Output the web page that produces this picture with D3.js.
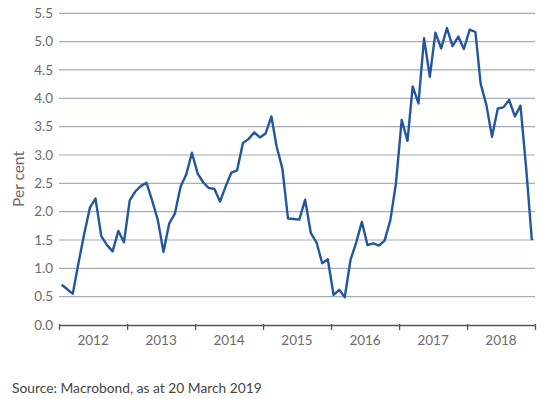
<!DOCTYPE html>
<html><head><meta charset="utf-8">
<script src="https://cdn.jsdelivr.net/npm/d3@7"></script>
<style>body{margin:0;background:#fff;} text{font-family:Lato,"Open Sans",sans-serif;}</style>
</head><body>
<svg id="c" width="552" height="399"></svg>
<script>
const startYear = 2012, startMonth = 0;
const values = [
 0.71,0.63,0.55,1.10,1.60,2.07,2.23,1.57,1.41,1.30,1.66,1.46,
 2.20,2.36,2.45,2.51,2.20,1.85,1.29,1.79,1.97,2.44,2.66,3.04,
 2.67,2.51,2.42,2.40,2.18,2.45,2.69,2.73,3.21,3.28,3.40,3.31,
 3.38,3.68,3.15,2.76,1.88,1.87,1.86,2.21,1.62,1.46,1.09,1.16,
 0.53,0.62,0.49,1.15,1.45,1.82,1.41,1.44,1.40,1.49,1.85,2.50,
 3.62,3.25,4.21,3.91,5.06,4.38,5.16,4.88,5.24,4.92,5.09,4.87,
 5.21,5.17,4.26,3.88,3.32,3.82,3.84,3.97,3.68,3.87,2.75,1.50
];
const yTicks = [0,0.5,1,1.5,2,2.5,3,3.5,4,4.5,5,5.5];
const yearLabels = [2012,2013,2014,2015,2016,2017,2018];
const yLabel = "Per cent";
const source = "Source: Macrobond, as at 20 March 2019";

const data = values.map((v,i)=>({date:new Date(startYear, startMonth+i, 15), v}));
const svg = d3.select("#c");
const L=59, R=535, T=13.3, B=325;
const x = d3.scaleTime().domain([new Date(2012,0,1), new Date(2019,0,1)]).range([L,R]);
const y = d3.scaleLinear().domain([0,5.5]).range([B,T]);

// gridlines
svg.append("g").selectAll("line").data(yTicks.filter(t=>t>0)).join("line")
  .attr("x1",L).attr("x2",R).attr("y1",d=>y(d)).attr("y2",d=>y(d))
  .attr("stroke","#a4adb9").attr("stroke-width",1.2);

// y labels
svg.append("g").selectAll("text").data(yTicks).join("text")
  .attr("x",53).attr("y",d=>y(d)).attr("dy","0.35em").attr("text-anchor","end")
  .attr("font-size",13.5).attr("fill","#6b6b6b").text(d=>d.toFixed(1));

// x axis
const xa = svg.append("g").attr("transform",`translate(0,${B})`)
  .call(d3.axisBottom(x).ticks(d3.timeYear.every(1)).tickSize(5).tickFormat(""));
xa.select(".domain").attr("stroke","#555").attr("stroke-width",1.3).attr("d",`M${L},0.5H${R}`);
xa.selectAll(".tick line").attr("stroke","#555").attr("stroke-width",1.3).attr("y1",-1);

svg.append("g").selectAll("text").data(yearLabels).join("text")
  .attr("x",d=>(x(new Date(d,0,1))+x(new Date(d+1,0,1)))/2).attr("y",345)
  .attr("text-anchor","middle").attr("font-size",13.5).attr("fill","#6b6b6b").text(d=>d);

// y title
svg.append("text").attr("transform","translate(24,179) rotate(-90)")
  .attr("text-anchor","middle").attr("font-size",15.5).attr("fill","#6b6b6b").text(yLabel);

// line
svg.append("path").datum(data)
  .attr("d",d3.line().x(d=>x(d.date)).y(d=>y(d.v)))
  .attr("fill","none").attr("stroke","#2456a0").attr("stroke-width",2.4).attr("stroke-linejoin","round");

// source
svg.append("text").attr("x",12).attr("y",393).attr("font-size",13.8).attr("fill","#454545").text(source);
</script>
</body></html>
